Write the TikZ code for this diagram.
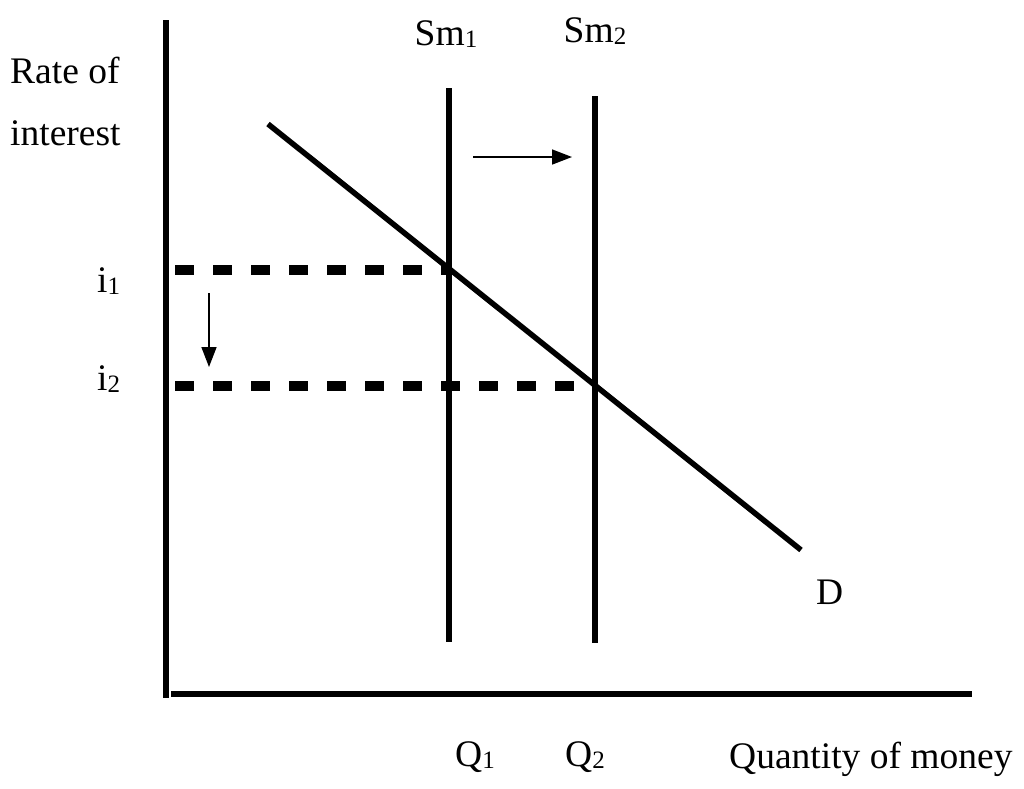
\documentclass[tikz,border=0pt]{standalone}
\usepackage{fontspec}
\setmainfont{Liberation Serif}
\usetikzlibrary{arrows.meta}
\newcommand\lowsub[1]{\raisebox{-2pt}{\fontsize{25}{25}\selectfont #1}}
\begin{document}
\begin{tikzpicture}[x=1pt,y=-1pt,
  lbl/.style={font=\fontsize{37.5}{37.5}\selectfont, inner sep=0pt, anchor=base west},
  lblc/.style={lbl, anchor=base},
  axisline/.style={line width=6pt},
  curveline/.style={line width=5.5pt},
  dashline/.style={line width=9.5pt, dash pattern=on 19pt off 19pt},
  shiftarrow/.style={line width=1.6pt, -{Triangle[length=20pt,width=15pt]}}]
\useasboundingbox (0,0) rectangle (1024,788);
% axes
\coordinate (ytop) at (166,20);
\coordinate (ybot) at (166,698);
\coordinate (xl) at (171,694);
\coordinate (xr) at (972,694);
\draw[axisline] (ytop) -- (ybot);
\draw[axisline] (xl) -- (xr);
% dashed levels
\coordinate (i1l) at (175,270);
\coordinate (i1r) at (449,270);
\coordinate (i2l) at (175,386);
\coordinate (i2r) at (575,386);
\draw[dashline] (i1l) -- (i1r);
\draw[dashline] (i2l) -- (i2r);
% supply lines
\coordinate (s1t) at (449,88);
\coordinate (s1b) at (449,642);
\coordinate (s2t) at (595,96);
\coordinate (s2b) at (595,643);
\draw[curveline] (s1t) -- (s1b);
\draw[curveline] (s2t) -- (s2b);
% demand
\coordinate (dt) at (268,124);
\coordinate (db) at (801,550);
\draw[curveline] (dt) -- (db);
% shift arrows
\coordinate (ra) at (473,157);
\coordinate (rb) at (572,157);
\draw[shiftarrow] (ra) -- (rb);
\coordinate (da) at (209,293);
\coordinate (dbb) at (209,367);
\draw[shiftarrow] (da) -- (dbb);
% labels
\node[lbl] (rate) at (10,83) {Rate of};
\node[lbl] (interest) at (10,145) {interest};
\node[lblc] (sm1) at (446,45) {Sm\lowsub{1}};
\node[lblc] (sm2) at (595,42) {Sm\lowsub{2}};
\node[lbl] (li1) at (97,292) {i\lowsub{1}};
\node[lbl] (li2) at (97,390) {i\lowsub{2}};
\node[lbl] (q1) at (455,766) {Q\lowsub{1}};
\node[lbl] (q2) at (565,766) {Q\lowsub{2}};
\node[lbl] (qm) at (729,768) {Quantity of money};
\node[lbl] (dl) at (816,604) {D};
\end{tikzpicture}
\end{document}
